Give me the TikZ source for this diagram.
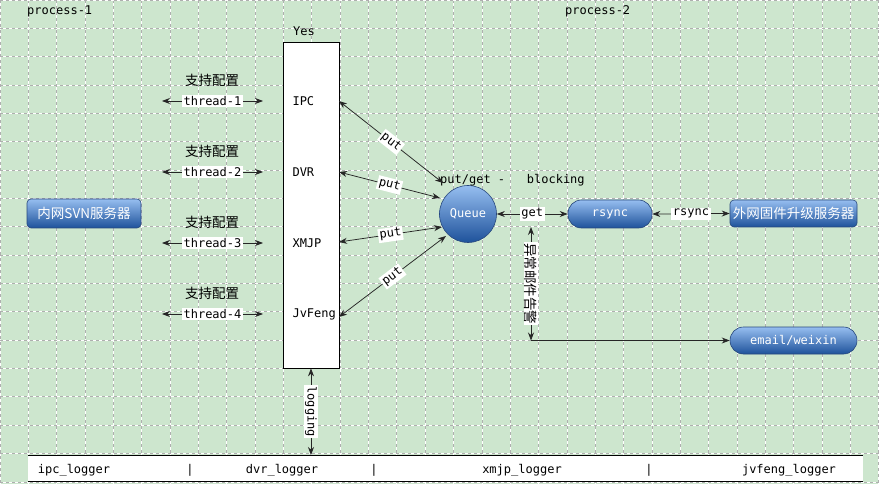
\documentclass[tikz,border=0pt]{standalone}
\usepackage{fontspec}
\setmainfont{DejaVu Sans}
\setmonofont{DejaVu Sans Mono}
\newfontfamily\cjk{Noto Sans CJK SC}
\usetikzlibrary{arrows.meta}
\definecolor{bggreen}{RGB}{205,230,206}
\definecolor{gridgray}{RGB}{175,175,175}
\definecolor{bluetop}{RGB}{150,190,240}
\definecolor{bluebot}{RGB}{30,82,155}
\definecolor{blueborder}{RGB}{40,72,125}
\tikzset{
  mono/.style={font=\ttfamily\fontsize{12}{13}\selectfont},
  cjklab/.style={font=\cjk\fontsize{13.5}{14}\selectfont},
  tag/.style={mono, fill=white, inner sep=1.5pt},
  cjktag/.style={cjklab, fill=white, inner sep=1pt},
  tipk/.tip={Stealth[length=8pt,width=6pt]},
  conn/.style={draw=black!85, line width=0.75pt, tipk-tipk},
  connto/.style={draw=black!85, line width=0.75pt, -tipk},
  bluebox/.style={draw=blueborder, line width=0.6pt, top color=bluetop, bottom color=bluebot, text=white, inner sep=0pt},
}
\begin{document}
\begin{tikzpicture}[x=1pt,y=-1pt]
\useasboundingbox (0,0) rectangle (879,484);
\fill[bggreen] (0,0) rectangle (879,484);
% grid
\foreach \i in {0,...,31}{
  \draw[white, line width=0.9pt] (\i*28.35,0) -- (\i*28.35,484);
  \draw[gridgray, line width=0.9pt, dash pattern=on 3pt off 3pt] (\i*28.35,0) -- (\i*28.35,484);
}
\foreach \j in {0,...,17}{
  \draw[white, line width=0.9pt] (0,\j*28.35) -- (879,\j*28.35);
  \draw[gridgray, line width=0.9pt, dash pattern=on 3pt off 3pt] (0,\j*28.35) -- (879,\j*28.35);
}
% titles
\node[mono, anchor=west, inner sep=0] (p1) at (27,11) {process-1};
\node[mono, anchor=west, inner sep=0] (p2) at (565,11) {process-2};
% process rectangle
\node[draw, fill=white, line width=0.7pt, minimum width=56pt, minimum height=326pt, inner sep=0] (proc) at (311,205) {};
\node[mono] (yes) at (304,31) {Yes};
\node[mono, anchor=west] (ipc) at (289,101) {IPC};
\node[mono, anchor=west] (dvr) at (289,172) {DVR};
\node[mono, anchor=west] (xmjp) at (289,243) {XMJP};
\node[mono, anchor=west] (jvf) at (289,314) {JvFeng};
% threads
\foreach \k/\y in {1/101,2/172,3/243,4/314}{
  \coordinate (tl\k) at (162,\y);
  \coordinate (tr\k) at (263,\y);
  \draw[conn] (tl\k) -- (tr\k) node[midway, tag] (th\k) {thread-\k};
  \node[cjklab] (cfg\k) at (212,\y-21) {支持配置};
}
% blue nodes
\node[bluebox, rounded corners=4pt, minimum width=114pt, minimum height=29pt, cjklab] (svn) at (84,213.5) {内网SVN服务器};
\node[bluebox, rounded corners=4pt, minimum width=127pt, minimum height=27pt, cjklab] (ext) at (793.5,213.5) {外网固件升级服务器};
\node[bluebox, rounded corners=13.5pt, minimum width=84pt, minimum height=28pt, mono] (rsync) at (610,214) {rsync};
\node[bluebox, rounded corners=13.5pt, minimum width=127pt, minimum height=27pt, mono] (email) at (793.5,340.5) {email/weixin};
\node[bluebox, circle, minimum size=57pt, mono] (queue) at (468,214) {Queue};
\node[mono, anchor=west, inner sep=0] (blk) at (440,180) {put/get -\ \ \ blocking};
% put connectors
\coordinate (pa1) at (339,101); \coordinate (pb1) at (443,183);
\coordinate (pa2) at (339,172); \coordinate (pb2) at (440,198);
\coordinate (pa3) at (339,242); \coordinate (pb3) at (442,227);
\coordinate (pa4) at (339,317); \coordinate (pb4) at (446,236);
\foreach \k in {1,...,4}{
  \draw[conn] (pa\k) -- (pb\k) node[midway, sloped, tag] (put\k) {put};
}
% get / rsync
\draw[conn] (queue.east) -- (rsync.west) node[midway, tag] (getl) {get};
\draw[conn] (rsync.east) -- (ext.west) node[midway, tag] (rsl) {rsync};
% alarm
\coordinate (vtop) at (531,227);
\coordinate (vbend) at (531,340.5);
\draw[conn] (vtop) -- (vbend) node[midway, cjktag, rotate=-90] (alarm) {异常邮件告警};
\draw[connto] (vbend) -- (email.west);
% logger bar
\fill[white] (28,455) rectangle (863,481);
\draw[line width=0.8pt] (28,455) -- (863,455);
\draw[line width=0.8pt] (28,481) -- (863,481);
\coordinate (lgbot) at (311,455);
\draw[conn] (proc.south) -- (lgbot) node[midway, tag, rotate=-90] (logl) {logging};
\node[mono] (l1) at (74,470) {ipc\_logger};
\node[mono] (s1) at (190,470) {|};
\node[mono] (l2) at (282,470) {dvr\_logger};
\node[mono] (s2) at (374,470) {|};
\node[mono] (l3) at (522,470) {xmjp\_logger};
\node[mono] (s3) at (649,470) {|};
\node[mono] (l4) at (789,470) {jvfeng\_logger};
\end{tikzpicture}
\end{document}
